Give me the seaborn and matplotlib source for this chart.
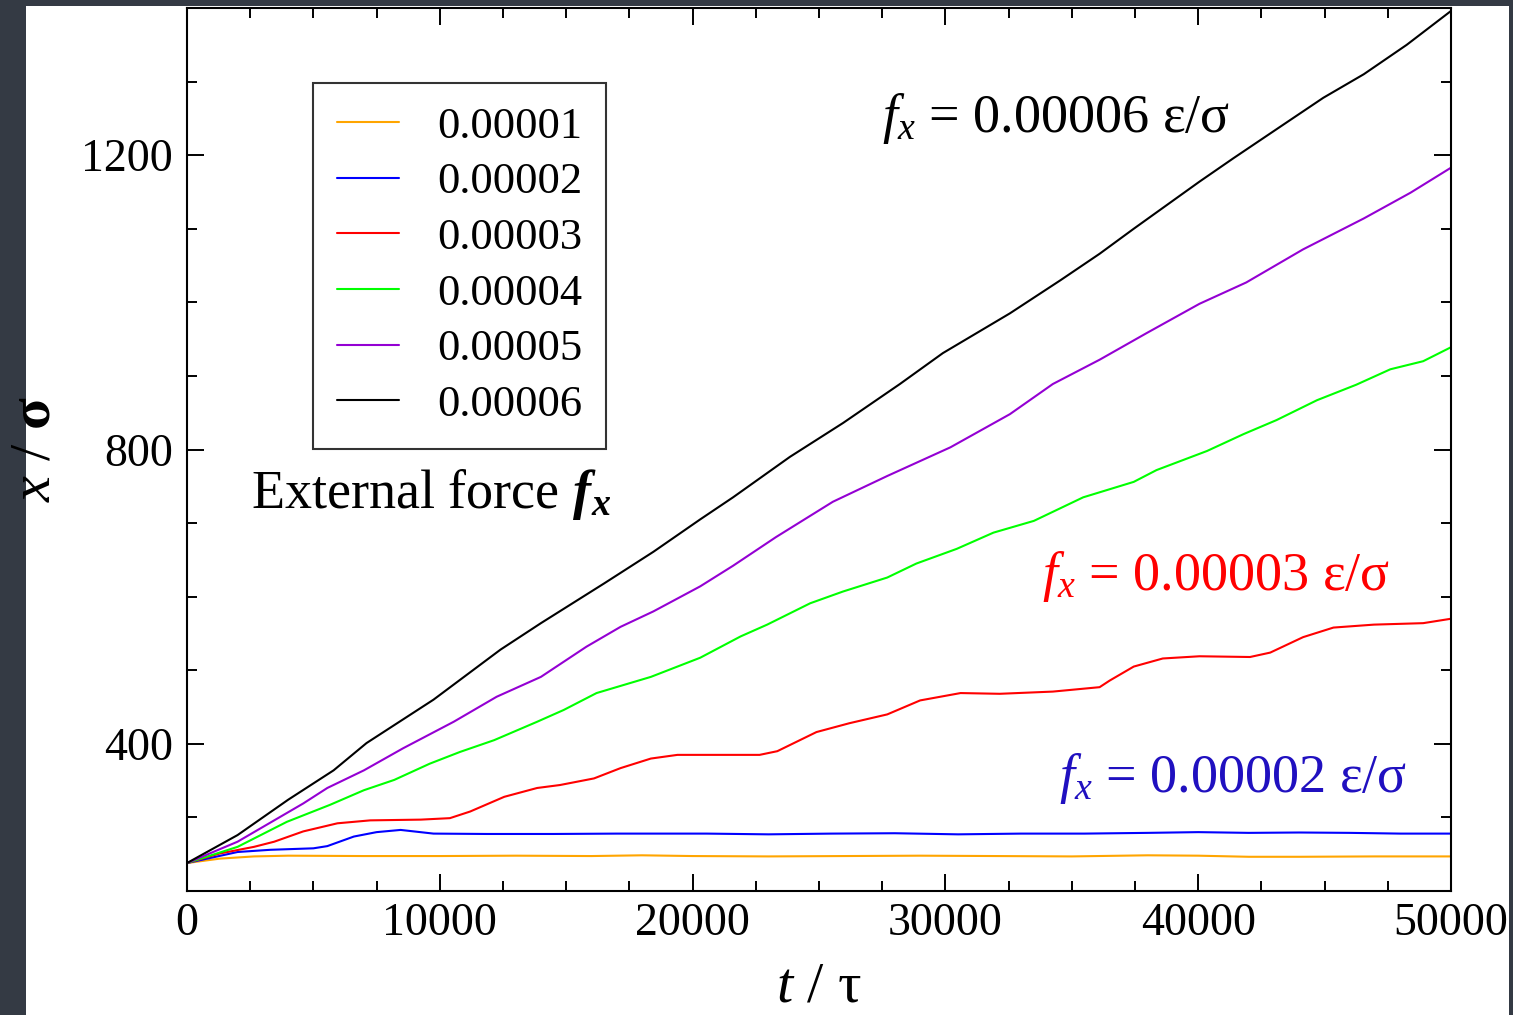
import numpy as np
import pandas as pd
import matplotlib
matplotlib.use("Agg")
import matplotlib.pyplot as plt
import seaborn as sns
from matplotlib.patches import Rectangle
from matplotlib.lines import Line2D
from matplotlib.ticker import MultipleLocator

# -----------------------------
# Data
# -----------------------------
labels = ["0.00001", "0.00002", "0.00003", "0.00004", "0.00005", "0.00006"]
colors = ["#ffa500", "#0000ff", "#ff0000", "#00ff00", "#9400d3", "#000000"]

t_orange = [0, 1300, 2650, 4000, 7000, 10000, 13000, 16000, 18000, 20000, 23000,
            26000, 29000, 32000, 35000, 38000, 40000, 42000, 44000, 47000, 50000]
x_orange = [238, 244, 247, 248, 247.5, 247.5, 248, 247.5, 248.5, 247.5, 247,
            247.5, 248, 247.5, 247, 248.5, 248, 246.5, 246.5, 247, 247]

t_blue = [0, 2000, 3300, 5000, 5550, 6600, 7500, 8450, 9750, 11850, 14500, 17000,
          20550, 23000, 25500, 28000, 30500, 33000, 35500, 38000, 40000, 42000,
          44000, 46000, 48000, 50000]
x_blue = [238, 253, 256, 258, 261, 274, 280, 283, 278, 277.5, 277.5, 278,
          278, 277, 278, 278.5, 277, 278, 278, 279, 280, 279,
          279.5, 279, 278, 278]

t_red = [0, 1300, 2650, 3450, 4600, 5950, 7250, 9250, 10400, 11200, 12550, 13850,
         14750, 16100, 17150, 18350, 19400, 20550, 22650, 23350, 24900, 26200,
         27700, 29000, 30600, 32150, 34250, 36100, 36500, 37450, 38600, 40050,
         42050, 42850, 44150, 45350, 46950, 48900, 50000]
x_red = [238, 251, 260, 267, 281, 292, 296, 297, 299, 308, 328, 340,
         344, 353, 367, 380, 385, 385, 385, 390, 416, 428,
         440, 459, 469, 468, 471, 477, 486, 505, 516, 519,
         518, 524, 545, 558, 562, 564, 570]

t_green = [0, 2000, 3950, 5650, 7000, 8200, 9600, 10800, 12150, 13850, 14900,
           16200, 18350, 19400, 20300, 21900, 22950, 24650, 25950, 27700, 28850,
           30450, 31900, 33500, 35450, 37450, 38350, 40350, 41800, 43100, 44700,
           46250, 47600, 48900, 50000]
x_green = [238, 260, 294, 317, 337, 351, 373, 389, 405, 430, 446,
           469, 491, 505, 517, 546, 562, 591, 607, 626, 645,
           665, 687, 703, 735, 756, 772, 798, 821, 840, 867,
           888, 909, 920, 939]

t_purple = [0, 2000, 4600, 5550, 7000, 8550, 10550, 12250, 14000, 15800, 17150,
            18450, 20300, 21600, 23300, 25550, 27700, 30200, 32550, 34250, 36100,
            37950, 40050, 41900, 44150, 46550, 48400, 50000]
x_purple = [238, 267, 319, 340, 364, 394, 430, 464, 491, 532, 559,
            580, 614, 642, 681, 729, 764, 803, 848, 889, 922,
            958, 998, 1027, 1072, 1114, 1149, 1183]

t_black = [0, 2000, 4000, 5800, 7100, 9750, 12400, 14000, 16500, 18450, 20300,
           21600, 23850, 25950, 28200, 29900, 32550, 34550, 36100, 37450, 40050,
           41400, 43650, 44950, 46550, 48250, 50000]
x_black = [238, 276, 324, 364, 401, 460, 528, 564, 618, 661, 705,
           735, 790, 836, 889, 931, 985, 1030, 1066, 1100, 1164,
           1196, 1248, 1278, 1310, 1350, 1396]

series_t = [t_orange, t_blue, t_red, t_green, t_purple, t_black]
series_x = [x_orange, x_blue, x_red, x_green, x_purple, x_black]

frames = [pd.DataFrame({"t": t, "x": x, "force": lab})
          for lab, t, x in zip(labels, series_t, series_x)]
df = pd.concat(frames, ignore_index=True)

# -----------------------------
# Style
# -----------------------------
sns.set_theme(style="ticks")
plt.rcParams["font.family"] = ["Liberation Serif", "DejaVu Serif"]
plt.rcParams["mathtext.fontset"] = "custom"
plt.rcParams["mathtext.rm"] = "Liberation Serif"
plt.rcParams["mathtext.it"] = "Liberation Serif:italic"
plt.rcParams["mathtext.bf"] = "Liberation Serif:bold"
plt.rcParams["mathtext.bfit"] = "Liberation Serif:italic:bold"
for k in ["text.color", "axes.labelcolor", "xtick.color", "ytick.color", "axes.edgecolor"]:
    plt.rcParams[k] = "black"

fig = plt.figure(figsize=(15.13, 10.15), dpi=100, facecolor="#343a44")
fig.patches.append(Rectangle((26 / 1513, 0), (1509 - 26) / 1513, (1015 - 6) / 1015,
                             transform=fig.transFigure, facecolor="white",
                             edgecolor="none", zorder=-10))
ax = fig.add_axes([187 / 1513, 1 - 891 / 1015, (1451 - 187) / 1513, (891 - 8) / 1015])

sns.lineplot(data=df, x="t", y="x", hue="force", palette=dict(zip(labels, colors)),
             estimator=None, sort=False, linewidth=1.5, legend=False, ax=ax)

ax.set_xlim(0, 50000)
ax.set_ylim(200, 1400)
ax.xaxis.set_major_locator(MultipleLocator(10000))
ax.xaxis.set_minor_locator(MultipleLocator(2500))
ax.yaxis.set_major_locator(MultipleLocator(400))
ax.yaxis.set_minor_locator(MultipleLocator(100))
ax.tick_params(which="both", direction="in", top=True, right=True, width=1.4,
               labelsize=33)
ax.tick_params(which="major", length=12)
ax.tick_params(which="minor", length=7)
ax.tick_params(axis="y", pad=10)
ax.tick_params(axis="x", pad=8)
for sp in ax.spines.values():
    sp.set_linewidth(1.5)
    sp.set_color("black")

ax.set_xlabel(r"$t$ / τ", fontsize=42, labelpad=12)
ax.set_ylabel(r"$x$ / $\mathbf{σ}$", fontsize=42, labelpad=14)

handles = [Line2D([], [], color=c, lw=1.5) for c in colors]
leg = ax.legend(handles, labels, loc="upper left", bbox_to_anchor=(0.0997, 0.915),
                borderaxespad=0, fontsize=32, frameon=True, fancybox=False,
                handlelength=1.4, handletextpad=0.86, labelspacing=0.35,
                borderpad=0.53)
leg.get_frame().set_edgecolor("black")
leg.get_frame().set_linewidth(1.5)

ax.text(2520, 720, r"External force $\mathbfit{f}_{\mathbfit{x}}$", fontsize=39,
        ha="left", va="baseline")
ax.text(27480, 1231, r"$f_x$ = 0.00006 ε/σ", fontsize=39, ha="left", va="baseline")
ax.text(33830, 609, r"$f_x$ = 0.00003 ε/σ", fontsize=39, ha="left", va="baseline",
        color="#ff0000")
ax.text(34500, 335, r"$f_x$ = 0.00002 ε/σ", fontsize=39, ha="left", va="baseline",
        color="#2010c0")

fig.savefig("out.png", dpi=100, facecolor=fig.get_facecolor())
